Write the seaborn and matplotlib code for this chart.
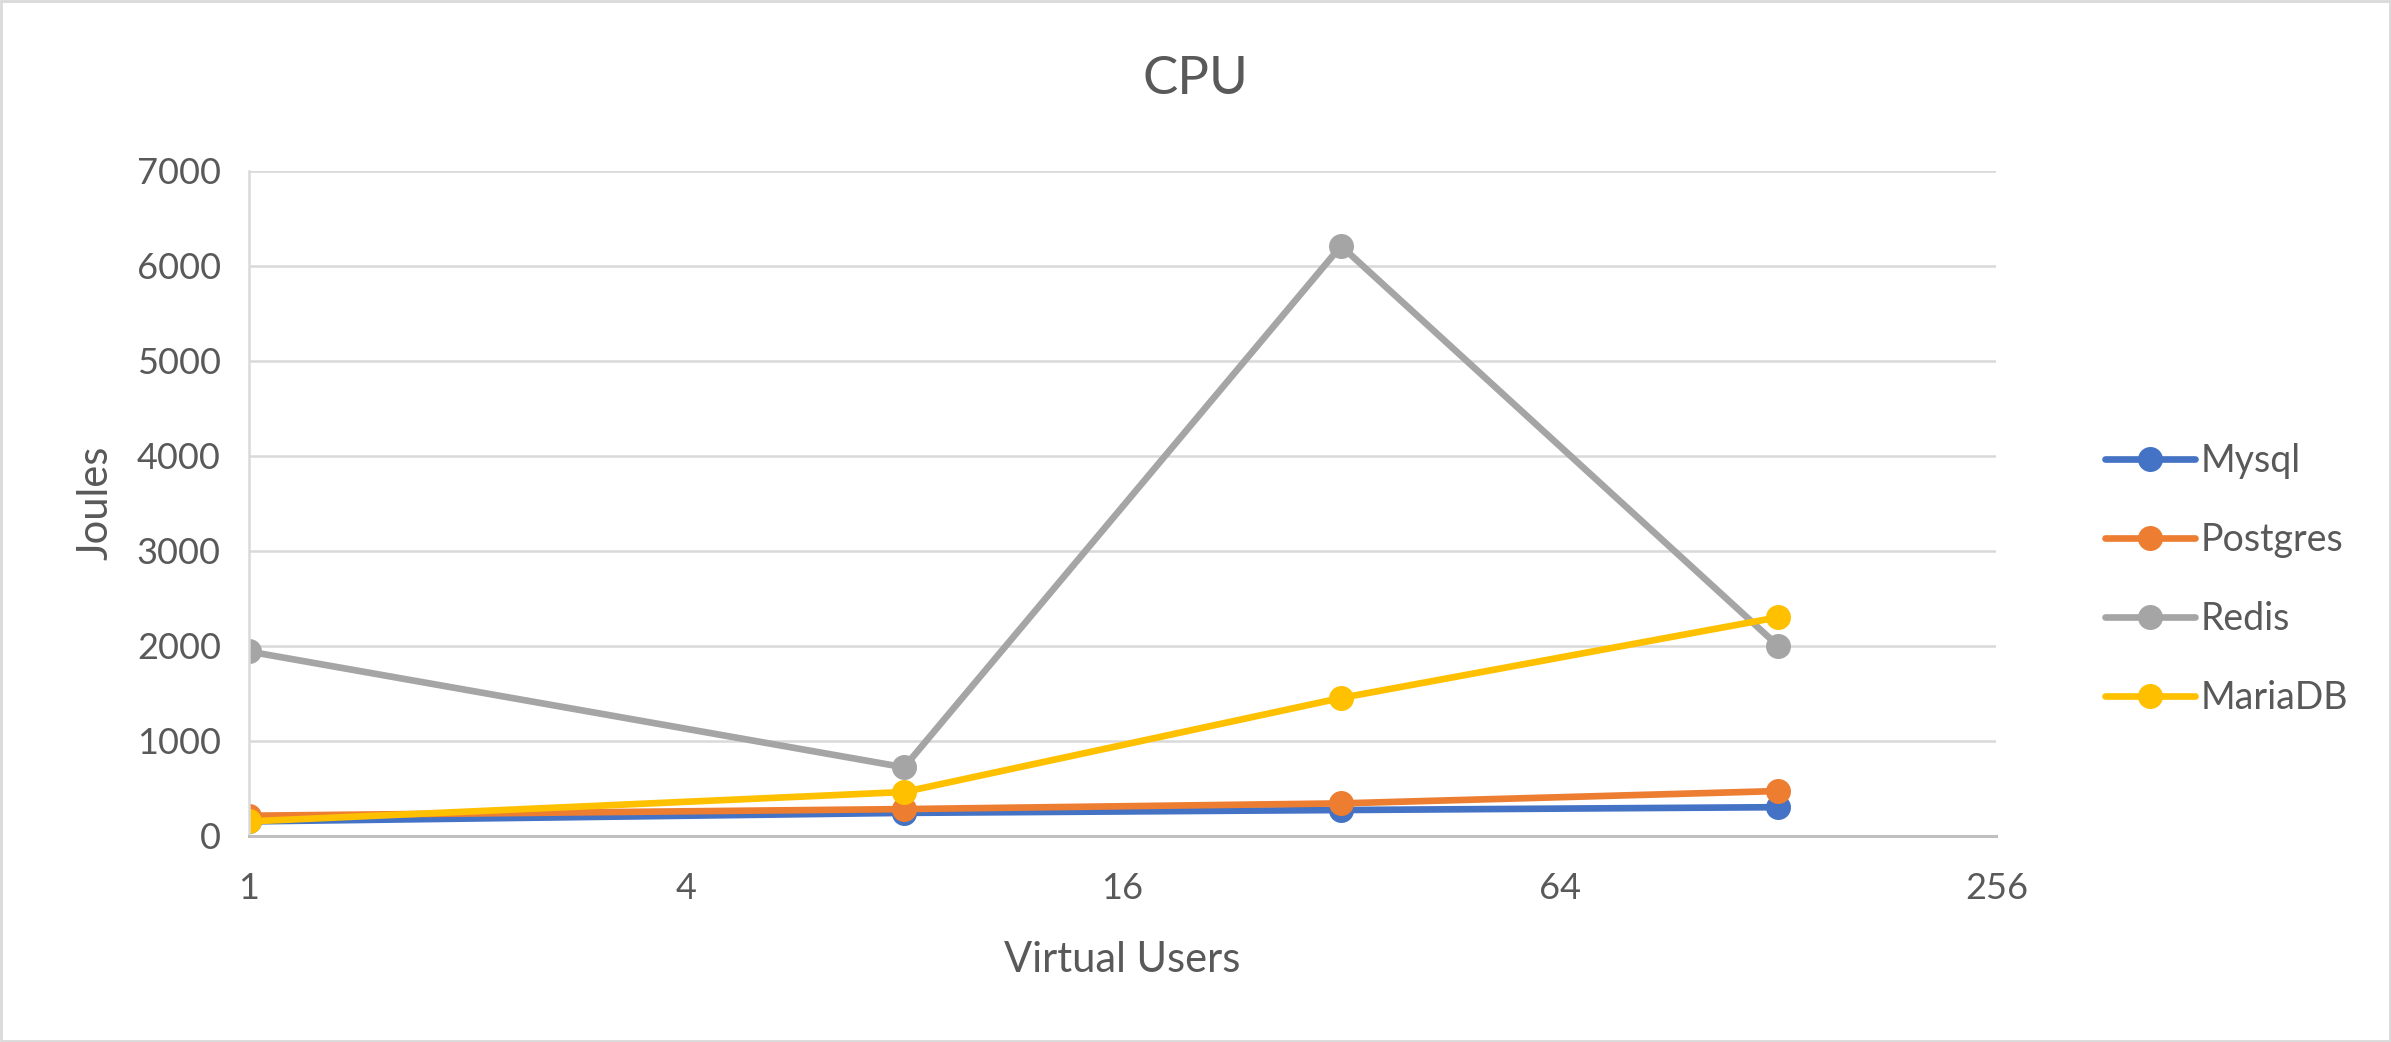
import seaborn as sns
from matplotlib import pyplot as plt
from matplotlib.patches import Rectangle
import pandas as pd

users = [1, 8, 32, 128]
mysql = [150, 240, 270, 300]
postgres = [210, 280, 340, 470]
redis = [1940, 720, 6210, 2000]
mariadb = [150, 460, 1450, 2300]

series_names = ["Mysql", "Postgres", "Redis", "MariaDB"]
colors = ["#4472C4", "#ED7D31", "#A5A5A5", "#FFC000"]
x_ticks = [1, 4, 16, 64, 256]
y_ticks = [0, 1000, 2000, 3000, 4000, 5000, 6000, 7000]

TEXT = "#595959"

rows = []
for name, vals in zip(series_names, [mysql, postgres, redis, mariadb]):
    for u, v in zip(users, vals):
        rows.append({"users": u, "joules": v, "db": name})
df = pd.DataFrame(rows)

sns.set_style("white")
plt.rcParams['font.family'] = ['Lato', 'DejaVu Sans']

fig = plt.figure(figsize=(23.91, 10.42), dpi=100)
ax = fig.add_axes([0.104, 0.198, 0.731, 0.638])

sns.lineplot(
    data=df, x="users", y="joules", hue="db",
    palette=dict(zip(series_names, colors)), hue_order=series_names,
    marker="o", markersize=18, markeredgewidth=0, linewidth=4.8,
    ax=ax,
)

ax.set_xscale('log', base=2)
ax.set_xlim(1, 256)
ax.set_ylim(0, 7000)
ax.set_xticks(x_ticks)
ax.set_xticklabels([str(t) for t in x_ticks])
ax.minorticks_off()
ax.set_yticks(y_ticks)
ax.tick_params(axis='both', labelsize=26, colors=TEXT, length=0)
ax.tick_params(axis='x', pad=26)
ax.tick_params(axis='y', pad=20)
ax.yaxis.grid(True, color="#D9D9D9", linewidth=1.8)
ax.set_axisbelow(True)

for s in ["top", "right"]:
    ax.spines[s].set_visible(False)
ax.spines["left"].set_color("#D9D9D9")
ax.spines["left"].set_linewidth(1.8)
ax.spines["bottom"].set_color("#BFBFBF")
ax.spines["bottom"].set_linewidth(2.2)

ax.set_xlabel("Virtual Users", fontsize=30, color=TEXT, labelpad=26)
ax.set_ylabel("Joules", fontsize=30, color=TEXT, labelpad=16)

fig.text(0.5, 0.924, "CPU", fontsize=38, color=TEXT, ha="center", va="center")

leg = ax.legend(
    loc="center left", bbox_to_anchor=(1.043, 0.385), frameon=False,
    fontsize=27, handlelength=2.4, handletextpad=0.15, labelspacing=1.15,
)
for t in leg.get_texts():
    t.set_color(TEXT)

fig.patches.append(Rectangle((0.0005, 0.001), 0.999, 0.998, transform=fig.transFigure,
                             fill=False, edgecolor="#D9D9D9", linewidth=2))

fig.savefig("out.png", dpi=100)
